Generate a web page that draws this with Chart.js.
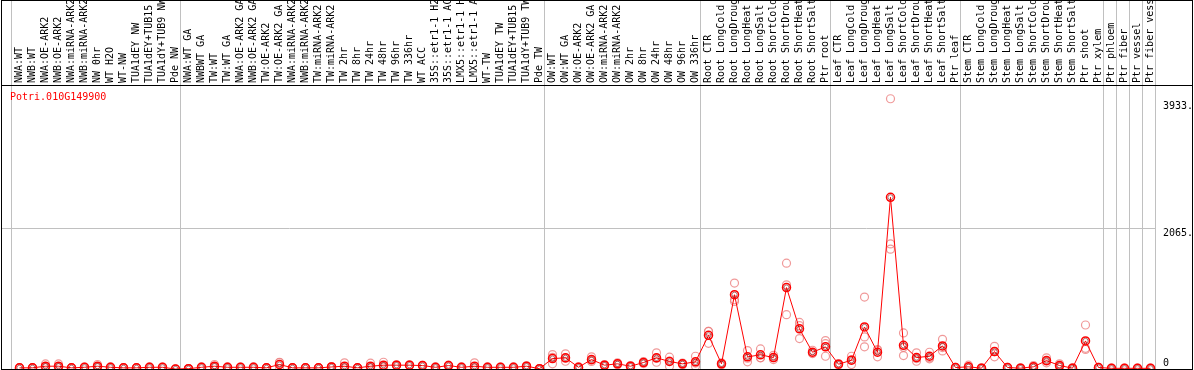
<!DOCTYPE html>
<html>
<head>
<meta charset="utf-8">
<script src="https://cdn.jsdelivr.net/npm/chart.js@4.4.0/dist/chart.umd.min.js"></script>
<style>
html,body{margin:0;padding:0;background:#fff;overflow:hidden}
canvas{display:block}
</style>
</head>
<body>
<canvas id="c" width="1194" height="370" style="width:1194px;height:370px"></canvas>
<script>
const geneTitle = "Potri.010G149900";

const categories = [
  "NWA:WT","NWB:WT","NWA:OE-ARK2","NWB:OE-ARK2","NWA:miRNA-ARK2","NWB:miRNA-ARK2","NW 0hr","WT H2O","WT-NW","TUA1dEY NW","TUA1dEY+TUB15 NW","TUA1dY+TUB9 NW","Pde NW",
  "NWA:WT GA","NWBWT GA","TW:WT","TW:WT GA","NWA:OE-ARK2 GA","NWB:OE-ARK2 GA","TW:OE-ARK2","TW:OE-ARK2 GA","NWA:miRNA-ARK2","NWB:miRNA-ARK2","TW:miRNA-ARK2","TW:miRNA-ARK2","TW 2hr","TW 8hr","TW 24hr","TW 48hr","TW 96hr","TW 336hr","WT ACC","35S::etr1-1 H2O","35S::etr1-1 ACC","LMX5::etr1-1 H2O","LMX5::etr1-1 ACC","WT-TW","TUA1dEY TW","TUA1dEY+TUB15 TW","TUA1dY+TUB9 TW","Pde TW",
  "OW:WT","OW:WT GA","OW:OE-ARK2","OW:OE-ARK2 GA","OW:miRNA-ARK2","OW:miRNA-ARK2","OW 2hr","OW 8hr","OW 24hr","OW 48hr","OW 96hr","OW 336hr",
  "Root CTR","Root LongCold","Root LongDrought","Root LongHeat","Root LongSalt","Root ShortCold","Root ShortDrought","Root ShortHeat","Root ShortSalt","Ptr root",
  "Leaf CTR","Leaf LongCold","Leaf LongDrought","Leaf LongHeat","Leaf LongSalt","Leaf ShortCold","Leaf ShortDrought","Leaf ShortHeat","Leaf ShortSalt","Ptr leaf",
  "Stem CTR","Stem LongCold","Stem LongDrought","Stem LongHeat","Stem LongSalt","Stem ShortCold","Stem ShortDrought","Stem ShortHeat","Stem ShortSalt","Ptr shoot",
  "Ptr xylem","Ptr phloem","Ptr fiber","Ptr vessel","Ptr fiber vessel"
];

const means = [
  17,17,41,41,17,25,41,25,17,17,25,25,0,
  5,25,41,25,25,25,17,66,17,17,17,30,41,17,41,56,56,56,50,25,50,25,41,25,25,25,41,5,
  153,164,25,139,56,76,41,95,164,110,76,105,
  494,76,1090,178,208,168,1195,589,246,325,
  70,129,617,246,2520,348,168,187,339,22,
  32,12,256,22,12,32,124,51,12,412,
  22,10,10,10,10
];

const replicates = [
  [12,17,22],[14,17,20],[75,25,23],[75,26,22],[14,17,20],[22,25,28],[66,30,27],[20,25,30],[12,17,22],[14,17,20],[20,25,30],[22,25,28],[0,0,0],
  [3,5,7],[20,25,30],[66,30,27],[20,25,30],[22,25,28],[20,25,30],[14,17,20],[99,95,4],[14,17,20],[12,17,22],[14,17,20],[25,30,35],[90,18,15],[14,17,20],[85,20,18],[99,40,29],[62,56,50],[60,56,52],[55,50,45],[20,25,30],[56,50,44],[20,25,30],[90,18,15],[20,25,30],[22,25,28],[20,25,30],[48,41,34],[3,5,7],
  [212,171,76],[222,156,114],[30,25,20],[178,130,110],[66,56,46],[90,76,62],[50,41,32],[110,95,80],[237,156,99],[173,116,41],[88,76,64],[187,87,41],
  [553,552,377],[90,76,62],[1261,1016,992],[271,158,105],[295,165,164],[200,165,139],[1553,1236,797],[684,636,446],[275,236,227],[417,371,187],
  [80,70,60],[187,134,66],[1056,471,325],[178,275,285],[3966,1835,1758],[529,318,197],[237,153,114],[246,166,149],[436,315,266],[18,22,26],
  [56,22,18],[8,12,16],[333,256,178],[18,22,26],[8,12,16],[50,26,20],[164,117,91],[76,45,32],[8,12,16],[646,304,286],
  [18,22,26],[6,10,14],[6,10,14],[6,10,14],[6,10,14]
];

// index of first category of each block (a separator line is drawn before each)
const groupStarts = [0,13,41,53,63,73,84,85,86,87,88];

const yTickValues = [0, 2065, 3933];
const yTickLabels = ["0", "2065.", "3933."];
const yMax = 4168;

// ---- styling / layout constants ----
const MONO = '"DejaVu Sans Mono","Liberation Mono",monospace';
const SEP_OFFSET = 0.615;
const X_MIN = -1.423;
const X_MAX = X_MIN + 1154 / 13;
const GRID = '#c0c0c0';

const sepValues = groupStarts.map(s => s - SEP_OFFSET);
const centerValues = categories.map((_, i) => i);

const meanPoints = means.map((v, i) => ({x: i, y: v}));
const repPoints = [];
replicates.forEach((arr, i) => arr.forEach(v => repPoints.push({x: i, y: v})));

const framePlugin = {
  id: 'frame',
  afterDraw(chart) {
    const ctx = chart.ctx;
    ctx.save();
    ctx.fillStyle = '#000';
    ctx.fillRect(1, 0, 1, 370);
    ctx.fillRect(1192, 0, 1, 370);
    ctx.fillRect(1, 0, 1192, 1);
    ctx.fillRect(1, 369, 1192, 1);
    ctx.fillRect(1, chart.chartArea.top, 1192, 1);
    ctx.fillStyle = '#ff0000';
    ctx.font = '10px ' + MONO;
    ctx.textBaseline = 'alphabetic';
    ctx.textAlign = 'left';
    ctx.fillText(geneTitle, 10, 100);
    ctx.restore();
  }
};

new Chart(document.getElementById('c'), {
  type: 'line',
  data: {
    datasets: [
      {
        label: 'mean',
        data: meanPoints,
        borderColor: '#ff0000',
        borderWidth: 1,
        pointRadius: 4,
        pointBorderColor: '#ff0000',
        pointBorderWidth: 1.5,
        pointBackgroundColor: 'rgba(0,0,0,0)',
        fill: false,
        tension: 0,
        order: 1,
        clip: {left: 8, right: 8, top: 8, bottom: 0}
      },
      {
        label: 'mean core',
        data: meanPoints,
        showLine: false,
        pointRadius: 2.6,
        pointBorderColor: 'rgba(110,0,0,0.55)',
        pointBorderWidth: 1,
        pointBackgroundColor: 'rgba(0,0,0,0)',
        order: 0,
        clip: {left: 8, right: 8, top: 8, bottom: 0}
      },
      {
        label: 'replicates',
        data: repPoints,
        showLine: false,
        pointRadius: 4,
        pointBorderColor: 'rgba(236,128,128,0.8)',
        pointBorderWidth: 1.2,
        pointBackgroundColor: 'rgba(0,0,0,0)',
        order: 2,
        clip: {left: 8, right: 8, top: 8, bottom: 0}
      }
    ]
  },
  options: {
    responsive: false,
    animation: false,
    devicePixelRatio: 1,
    events: [],
    layout: {autoPadding: false, padding: {left: 1, right: 0, top: 0, bottom: 1}},
    plugins: {legend: {display: false}, tooltip: {enabled: false}, title: {display: false}},
    scales: {
      x: {
        type: 'linear',
        position: 'top',
        min: X_MIN,
        max: X_MAX,
        bounds: 'data',
        afterBuildTicks(scale) {
          scale.ticks = [...sepValues, ...centerValues].sort((a, b) => a - b).map(v => ({value: v}));
        },
        afterFit(scale) {
          scale.height = 85;
          scale.paddingLeft = 0;
          scale.paddingRight = 0;
        },
        ticks: {
          autoSkip: false,
          minRotation: 90,
          maxRotation: 90,
          padding: -83,
          labelOffset: 12,
          color: '#000',
          font: {family: MONO, size: 10},
          callback(v) { return Number.isInteger(v) ? categories[v] : ''; }
        },
        grid: {
          drawOnChartArea: true,
          drawTicks: true,
          tickLength: 85,
          lineWidth: 1,
          color(ctx) {
            const v = ctx.tick ? ctx.tick.value : 0;
            return Number.isInteger(v) ? 'rgba(0,0,0,0)' : GRID;
          }
        },
        border: {display: false}
      },
      y: {
        type: 'linear',
        position: 'right',
        min: 0,
        max: yMax,
        afterBuildTicks(scale) {
          scale.ticks = yTickValues.map(v => ({value: v}));
        },
        afterFit(scale) {
          scale.width = 39;
          scale.paddingTop = 0;
          scale.paddingBottom = 0;
        },
        ticks: {
          padding: 8,
          color: '#000',
          font: {family: MONO, size: 10, lineHeight: 1.1},
          callback(v) {
            const l = yTickLabels[yTickValues.indexOf(v)];
            return v === 0 ? [l, ''] : ['', l];
          }
        },
        grid: {
          drawTicks: false,
          lineWidth: 1,
          color(ctx) {
            return ctx.tick && ctx.tick.value === yTickValues[1] ? GRID : 'rgba(0,0,0,0)';
          }
        },
        border: {display: false}
      }
    }
  },
  plugins: [framePlugin]
});
</script>
</body>
</html>
